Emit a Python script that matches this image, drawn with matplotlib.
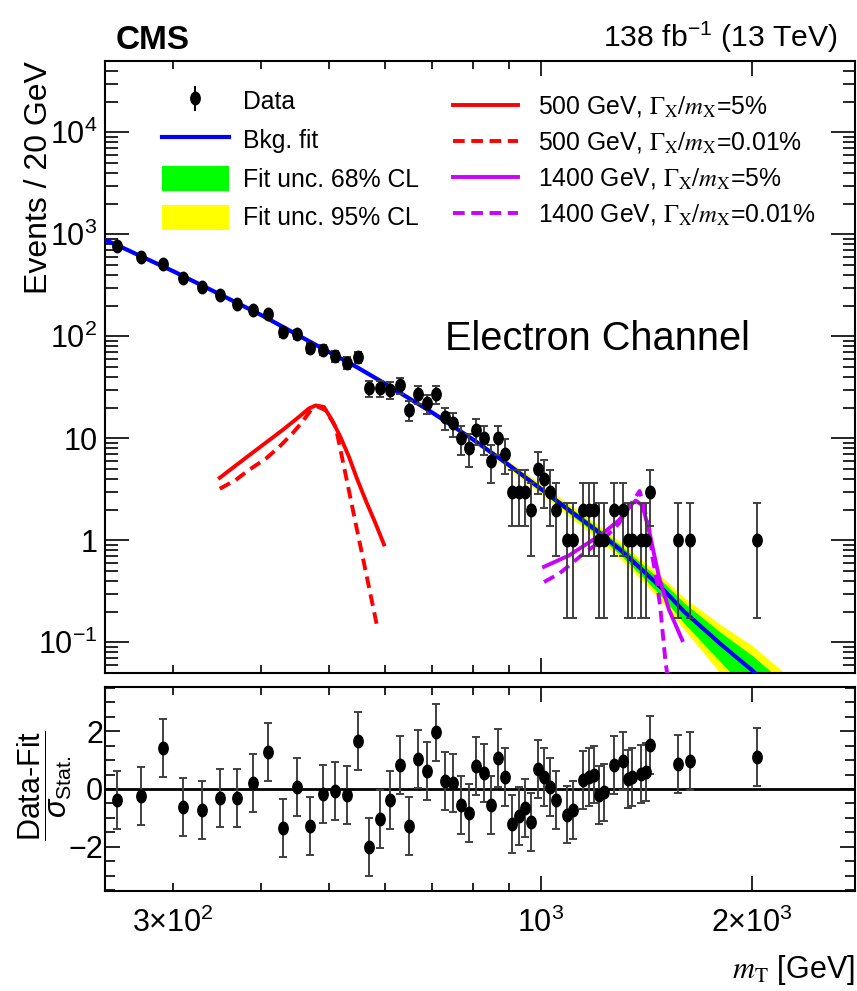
import numpy as np
import matplotlib
matplotlib.use('Agg')
import matplotlib.pyplot as plt
from matplotlib import font_manager
from matplotlib.path import Path
from matplotlib.transforms import Affine2D
from matplotlib.ticker import FixedLocator, FuncFormatter, MultipleLocator, NullFormatter
from matplotlib.patches import Patch

plt.rcParams['font.family'] = 'Liberation Sans'
plt.rcParams['mathtext.fontset'] = 'custom'
plt.rcParams['mathtext.rm'] = 'Liberation Sans'
plt.rcParams['mathtext.it'] = 'Liberation Sans:italic'
plt.rcParams['mathtext.bf'] = 'Liberation Sans:bold'
plt.rcParams['mathtext.sf'] = 'Liberation Sans'

# data: bin centres (GeV), event counts, pulls
mt = [250, 270, 290, 310, 330, 350, 370, 390, 410, 430, 450, 470, 490, 510, 530,
      550, 570, 590, 610, 630, 650, 670, 690, 710, 730, 750, 770, 790, 810, 830,
      850, 870, 890, 910, 930, 950, 970, 990, 1010, 1030, 1050, 1090, 1110, 1150,
      1170, 1190, 1210, 1230, 1270, 1310, 1330, 1350, 1390, 1410, 1430, 1570, 1630, 2030]
counts = [768, 600, 516, 376, 302, 252, 206, 180, 164, 109, 105, 77, 74, 64, 55,
          62, 31, 31, 30, 33, 19, 27, 22, 27, 16, 14, 10, 8, 12, 10,
          6, 10, 7, 3, 3, 3, 2, 5, 4, 3, 2, 1, 1, 2,
          2, 2, 1, 1, 2, 2, 1, 1, 1, 1, 3, 1, 1, 1]
pulls = [-0.38, -0.23, 1.41, -0.61, -0.73, -0.30, -0.32, 0.22, 1.29, -1.35, 0.06, -1.28, -0.18, -0.08, -0.22,
         1.65, -2.0, -1.03, -0.38, 0.84, -1.27, 1.03, 0.62, 1.95, 0.29, 0.21, -0.54, -0.84, 0.78, 0.54,
         -0.54, 1.06, 0.40, -1.21, -0.92, -0.67, -1.15, 0.69, 0.43, 0.08, -0.37, -0.88, -0.73, 0.31,
         0.43, 0.50, -0.20, -0.12, 0.83, 0.95, 0.35, 0.43, 0.52, 0.58, 1.53, 0.87, 0.95, 1.12]

# poisson interval bounds for small counts
pois_lo = {1: 0.173, 2: 0.708, 3: 1.367, 4: 2.086, 5: 2.840, 6: 3.620, 7: 4.418, 8: 5.231, 10: 6.886}
pois_hi = {1: 2.30, 2: 3.64, 3: 4.92, 4: 6.16, 5: 7.38, 6: 8.58, 7: 9.77, 8: 10.95, 10: 13.27}

# background fit and uncertainty bands
fit_m = [240, 250, 300, 350, 400, 450, 500, 550, 600, 700, 800, 900, 1000, 1100,
         1200, 1300, 1400, 1500, 1600, 1800, 2000, 2200, 2400]
fit_y = [880, 780, 435, 257, 162, 104, 70, 49, 34.5, 18, 9.8, 5.5, 3.2, 1.95,
         1.25, 0.8, 0.5, 0.32, 0.2, 0.097, 0.053, 0.028, 0.015]
b95_up = [1, 1, 1, 1, 1.005, 1.01, 1.015, 1.02, 1.03, 1.04, 1.06, 1.09, 1.12, 1.14,
          1.17, 1.2, 1.25, 1.3, 1.37, 1.55, 1.75, 1.9, 2.2]
b95_dn = [1, 1, 1, 1, 1.005, 1.01, 1.015, 1.02, 1.03, 1.04, 1.06, 1.09, 1.12, 1.15,
          1.18, 1.22, 1.28, 1.38, 1.5, 1.94, 2.4, 2.8, 3.2]
b68_up = [1, 1, 1, 1, 1.002, 1.005, 1.008, 1.01, 1.015, 1.02, 1.03, 1.045, 1.06, 1.075,
          1.09, 1.11, 1.14, 1.18, 1.22, 1.3, 1.4, 1.5, 1.7]
b68_dn = [1, 1, 1, 1, 1.002, 1.005, 1.008, 1.01, 1.015, 1.02, 1.03, 1.045, 1.06, 1.075,
          1.09, 1.12, 1.16, 1.22, 1.3, 1.5, 1.75, 2.0, 2.3]

# signal shapes
sig500w_m = [349.5, 384.7, 429, 453, 468, 478.6, 491.7, 505, 519, 533.6, 548, 563.6, 582.3, 598.5]
sig500w_y = [4.1, 6.8, 12, 16.2, 19.6, 21, 20.3, 15, 10.3, 6.6, 4.0, 2.47, 1.46, 0.91]
sig500n_m = [349.5, 368.2, 384.7, 406.3, 424.4, 443.2, 458, 473, 481, 494.5, 511, 528, 545.3, 563.6, 585.5]
sig500n_y = [3.2, 3.9, 4.9, 6.3, 8.2, 11.1, 14.5, 19.6, 20.6, 18.8, 12.9, 4.37, 1.48, 0.50, 0.141]
sig1400w_m = [1011, 1097, 1224, 1292, 1350, 1365, 1395, 1426, 1473, 1522, 1590]
sig1400w_y = [0.55, 0.71, 1.16, 1.57, 2.29, 2.45, 2.2, 1.25, 0.44, 0.21, 0.105]
sig1400n_m = [1011, 1062, 1159, 1224, 1292, 1350, 1383, 1426, 1442, 1465, 1481, 1506, 1525]
sig1400n_y = [0.39, 0.47, 0.77, 1.0, 1.46, 2.38, 3.04, 1.35, 0.686, 0.376, 0.205, 0.062, 0.035]

W, H = 857, 991


def fx(px):
    return px / W


def fy(py):
    return 1 - py / H


names = {f.name for f in font_manager.fontManager.ttflist}
narrow = 'Liberation Sans Narrow' in names

fig = plt.figure(figsize=(W / 100, H / 100), dpi=100)
ax = fig.add_axes([fx(105), fy(673), (855 - 105) / W, (673 - 61) / H])
ax2 = fig.add_axes([fx(105), fy(891), (855 - 105) / W, (891 - 687) / H])

ellipse = Path.unit_circle().transformed(Affine2D().scale(0.75, 1.0))
red = '#FF0000'
mag = '#CC00FF'

fm = np.array(fit_m)
fv = np.array(fit_y)
ax.fill_between(fm, fv / np.array(b95_dn), fv * np.array(b95_up), color='#FFFF00', lw=0, zorder=1)
ax.fill_between(fm, fv / np.array(b68_dn), fv * np.array(b68_up), color='#00FF00', lw=0, zorder=2)
h_fit, = ax.plot(fm, fv, color='#0000FF', lw=3, zorder=3)

h1, = ax.plot(sig500w_m, sig500w_y, color=red, lw=2.8, zorder=4)
h2, = ax.plot(sig500n_m, sig500n_y, color=red, lw=2.8, dashes=(3, 1.7), zorder=4)
h3, = ax.plot(sig1400w_m, sig1400w_y, color=mag, lw=2.8, zorder=4)
h4, = ax.plot(sig1400n_m, sig1400n_y, color=mag, lw=2.8, dashes=(3, 1.7), zorder=4)

err_lo = [c - pois_lo[c] if c in pois_lo else np.sqrt(c) for c in counts]
err_hi = [pois_hi[c] - c if c in pois_hi else np.sqrt(c) for c in counts]
ax.errorbar(mt, counts, yerr=[err_lo, err_hi], fmt='none', ecolor='0.25',
            elinewidth=1.4, capsize=3, capthick=1.4, zorder=5)
ax.plot(mt, counts, ls='none', marker=ellipse, ms=9, color='black', zorder=6)

h_data = ax.errorbar([np.nan], [np.nan], yerr=[[1], [1]], marker=ellipse, ms=9,
                     color='black', ecolor='black', elinewidth=1.5, capsize=0, ls='none')
p68 = Patch(facecolor='#00FF00', edgecolor='none')
p95 = Patch(facecolor='#FFFF00', edgecolor='none')

ax.set_xscale('log')
ax.set_yscale('log')
ax.set_xlim(240, 2800)
ax.set_ylim(0.05, 5e4)

leg1 = ax.legend([h_data, h_fit, p68, p95],
                 ['Data', 'Bkg. fit', 'Fit unc. 68% CL', 'Fit unc. 95% CL'],
                 loc='upper left', bbox_to_anchor=(fx(162), fy(88)),
                 bbox_transform=fig.transFigure, frameon=False, fontsize=17.8,
                 handlelength=2.71, handleheight=1.17, handletextpad=0.57,
                 labelspacing=0.53, borderpad=0, borderaxespad=0)
ax.add_artist(leg1)
lab = r'$\Gamma_{\mathrm{X}}/m_{\mathrm{X}}$'
leg2 = ax.legend([h1, h2, h3, h4],
                 ['500 GeV, ' + lab + '=5%', '500 GeV, ' + lab + '=0.01%',
                  '1400 GeV, ' + lab + '=5%', '1400 GeV, ' + lab + '=0.01%'],
                 loc='upper left', bbox_to_anchor=(fx(453), fy(94)),
                 bbox_transform=fig.transFigure, frameon=False, fontsize=17.8,
                 handlelength=2.63, handletextpad=0.81, labelspacing=0.45,
                 borderpad=0, borderaxespad=0)
for t in leg2.get_texts():
    t.set_math_fontfamily('stix')

# axis ticks
ylab = {0.1: r'$10^{-1}$', 1: '1', 10: '10', 100: r'$10^{2}$', 1000: r'$10^{3}$', 10000: r'$10^{4}$'}
ax.yaxis.set_major_locator(FixedLocator(list(ylab.keys())))
ax.yaxis.set_major_formatter(FuncFormatter(lambda v, p: ylab.get(round(v, 3), '')))
ax.yaxis.set_minor_locator(FixedLocator([k * 10.0 ** e for e in range(-2, 5) for k in range(2, 10)]))
ax.yaxis.set_minor_formatter(NullFormatter())

xmaj = {1000: r'$10^{3}$', 2000: r'$2{\times}10^{3}$'}
xmin = {300: r'$3{\times}10^{2}$'}
for a in (ax, ax2):
    a.set_xscale('log')
    a.set_xlim(240, 2800)
    a.xaxis.set_major_locator(FixedLocator([1000, 2000]))
    a.xaxis.set_minor_locator(FixedLocator([300, 400, 500, 600, 700, 800, 900, 3000]))
    a.xaxis.set_major_formatter(FuncFormatter(lambda v, p: xmaj.get(int(round(v)), '')))
    a.xaxis.set_minor_formatter(FuncFormatter(lambda v, p: xmin.get(int(round(v)), '')))
    a.tick_params(which='both', direction='in', top=True, right=True, width=1.2, labelsize=22)
    for s in a.spines.values():
        s.set_linewidth(1.5)

ax.tick_params(axis='x', which='both', labelbottom=False)
ax.tick_params(axis='x', which='major', length=11)
ax.tick_params(axis='x', which='minor', length=5.5)
ax.tick_params(axis='y', which='major', length=17, pad=5.5)
ax.tick_params(axis='y', which='minor', length=9)

ax2.errorbar(mt, pulls, yerr=1, fmt='none', ecolor='0.25', elinewidth=1.4,
             capsize=3, capthick=1.4, zorder=5)
ax2.plot(mt, pulls, ls='none', marker=ellipse, ms=9, color='black', zorder=6)
ax2.axhline(0, color='black', lw=2, zorder=4)
ax2.set_ylim(-3.52, 3.52)
ax2.yaxis.set_major_locator(FixedLocator([-2, 0, 2]))
ax2.yaxis.set_major_formatter(FuncFormatter(lambda v, p: {-2: '\u22122', 0: '0', 2: '2'}.get(int(round(v)), '')))
ax2.yaxis.set_minor_locator(MultipleLocator(0.5))
ax2.tick_params(axis='x', which='major', length=11, pad=12)
ax2.tick_params(axis='x', which='minor', length=6, pad=12)
ax2.tick_params(axis='y', which='major', length=11, pad=1.5)
ax2.tick_params(axis='y', which='minor', length=7)

# texts
fig.text(fx(116), fy(49.3), 'CMS', fontsize=24, fontweight='bold', ha='left', va='baseline')
fig.text(fx(837.5), fy(46.7), r'138 fb$^{-1}$ (13 TeV)', fontsize=21.7, ha='right', va='baseline')
if narrow:
    fig.text(fx(445), fy(350), 'Electron Channel', fontsize=35, family='Liberation Sans Narrow',
             ha='left', va='baseline')
else:
    fig.text(fx(445), fy(350), 'Electron Channel', fontsize=28.6, ha='left', va='baseline')
fig.text(fx(47), fy(61), 'Events / 20 GeV', fontsize=23, rotation=90, rotation_mode='anchor',
         ha='right', va='baseline')
fig.text(fx(45), fy(786), r'$\dfrac{\text{Data-Fit}}{\sigma_{\text{Stat.}}}$', fontsize=22,
         rotation=90, ha='center', va='center')
fig.text(fx(855), fy(978), r'$m_{\mathrm{T}}$ [GeV]', fontsize=22, ha='right', va='baseline',
         math_fontfamily='stix')

fig.savefig('out.png', dpi=100)
